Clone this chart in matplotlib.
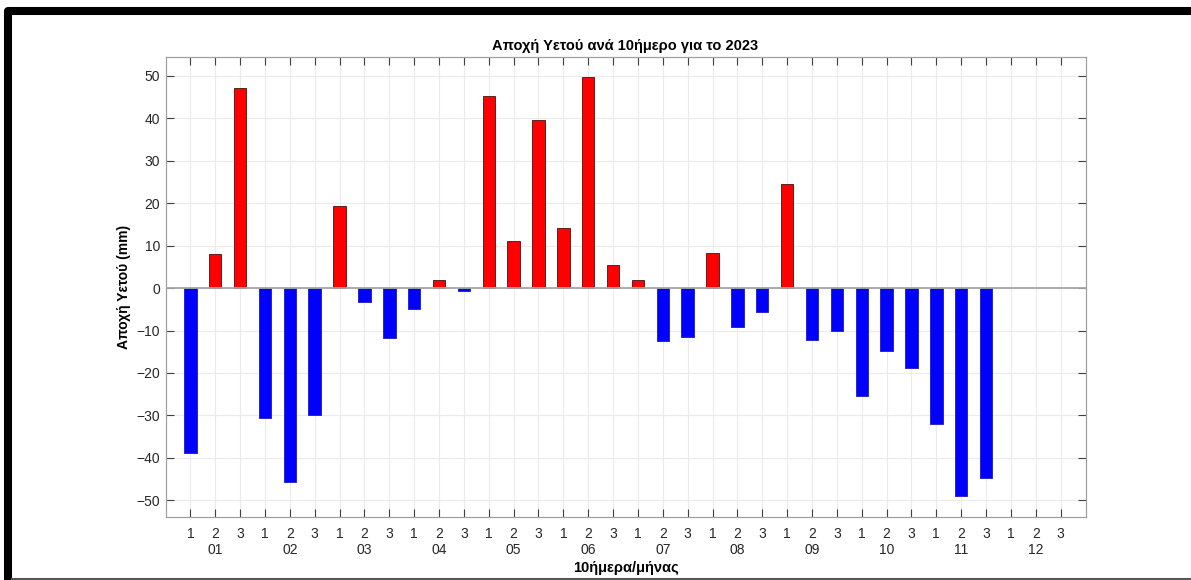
import numpy as np
import matplotlib
matplotlib.use("Agg")
import matplotlib.pyplot as plt
from matplotlib.lines import Line2D
from matplotlib.transforms import blended_transform_factory

plt.rcParams['font.family'] = ['Liberation Sans', 'DejaVu Sans']

# departure of precipitation per 10-day period, 2023 (Dec has no data)
months = ['01', '02', '03', '04', '05', '06', '07', '08', '09', '10', '11', '12']
decades = ['1', '2', '3']
anomaly = [
    -38.9, 8.1, 47.2,      # 01
    -30.5, -45.7, -29.9,   # 02
    19.4, -3.2, -11.7,     # 03
    -5.0, 2.0, -0.8,       # 04
    45.3, 11.1, 39.6,      # 05
    14.2, 49.8, 5.4,       # 06
    1.9, -12.4, -11.6,     # 07
    8.3, -9.1, -5.7,       # 08
    24.5, -12.3, -10.0,    # 09
    -25.4, -14.8, -18.9,   # 10
    -32.0, -48.9, -44.8,   # 11
    np.nan, np.nan, np.nan # 12
]

vals = np.array(anomaly, dtype=float)
pos = np.arange(1, len(vals) + 1)

W, H = 1191, 580
fig = plt.figure(figsize=(W / 100, H / 100), dpi=100)
ax = fig.add_axes([165.5 / W, 1 - 517.3 / H, 920 / W, (517.3 - 56.7) / H])

ok = ~np.isnan(vals)
colors = np.where(vals > 0, '#ff0000', '#0000ff')
edges = np.where(vals > 0, '#602020', '#2828c8')
ax.bar(pos[ok], vals[ok], width=0.5, color=colors[ok], edgecolor=edges[ok],
       linewidth=0.7, zorder=3)
ax.axhline(0, color='#a6a6a6', lw=1.3, zorder=4)

ax.set_xlim(0, 37)
ax.set_ylim(-54, 54.5)
ax.set_yticks(np.arange(-50, 51, 10))
ax.set_xticks(pos)
ax.set_xticklabels(decades * len(months))
ax.grid(True, color='#ebebeb', lw=0.8, zorder=0)
ax.tick_params(direction='in', length=6, width=0.8, color='#404040',
               labelcolor='#262626', labelsize=10, top=True, right=True)
ax.tick_params(axis='x', pad=7)
ax.tick_params(axis='y', pad=4)
for s in ax.spines.values():
    s.set_color('#a0a0a0')
    s.set_linewidth(0.9)

# month labels under the middle decade
tr = blended_transform_factory(ax.transData, ax.transAxes)
for i, m in enumerate(months):
    ax.text(3 * i + 2, -33 / 460.6, m, transform=tr, ha='center', va='center',
            fontsize=10, color='#262626')

ax.set_title('Αποχή Υετού ανά 10ήμερο για το 2023', fontsize=10.5,
             fontweight='bold', pad=5)
ax.set_ylabel('Αποχή Υετού (mm)', fontsize=10, fontweight='bold', labelpad=4)
ax.text(0.5, -51 / 460.6, '10ήμερα/μήνας', transform=ax.transAxes, ha='center',
        va='center', fontsize=10.5, fontweight='bold')

# black frame of the screenshot
fig.add_artist(Line2D([8 / W, 8 / W, 1.0], [0.0, 1 - 11 / H, 1 - 11 / H],
                      transform=fig.transFigure, color='black', lw=5.8,
                      solid_joinstyle='round', solid_capstyle='butt'))
fig.add_artist(Line2D([12 / W, 1.0], [1 / H, 1 / H], transform=fig.transFigure,
                      color='#555555', lw=1.5))

fig.savefig('out.png', dpi=100)
